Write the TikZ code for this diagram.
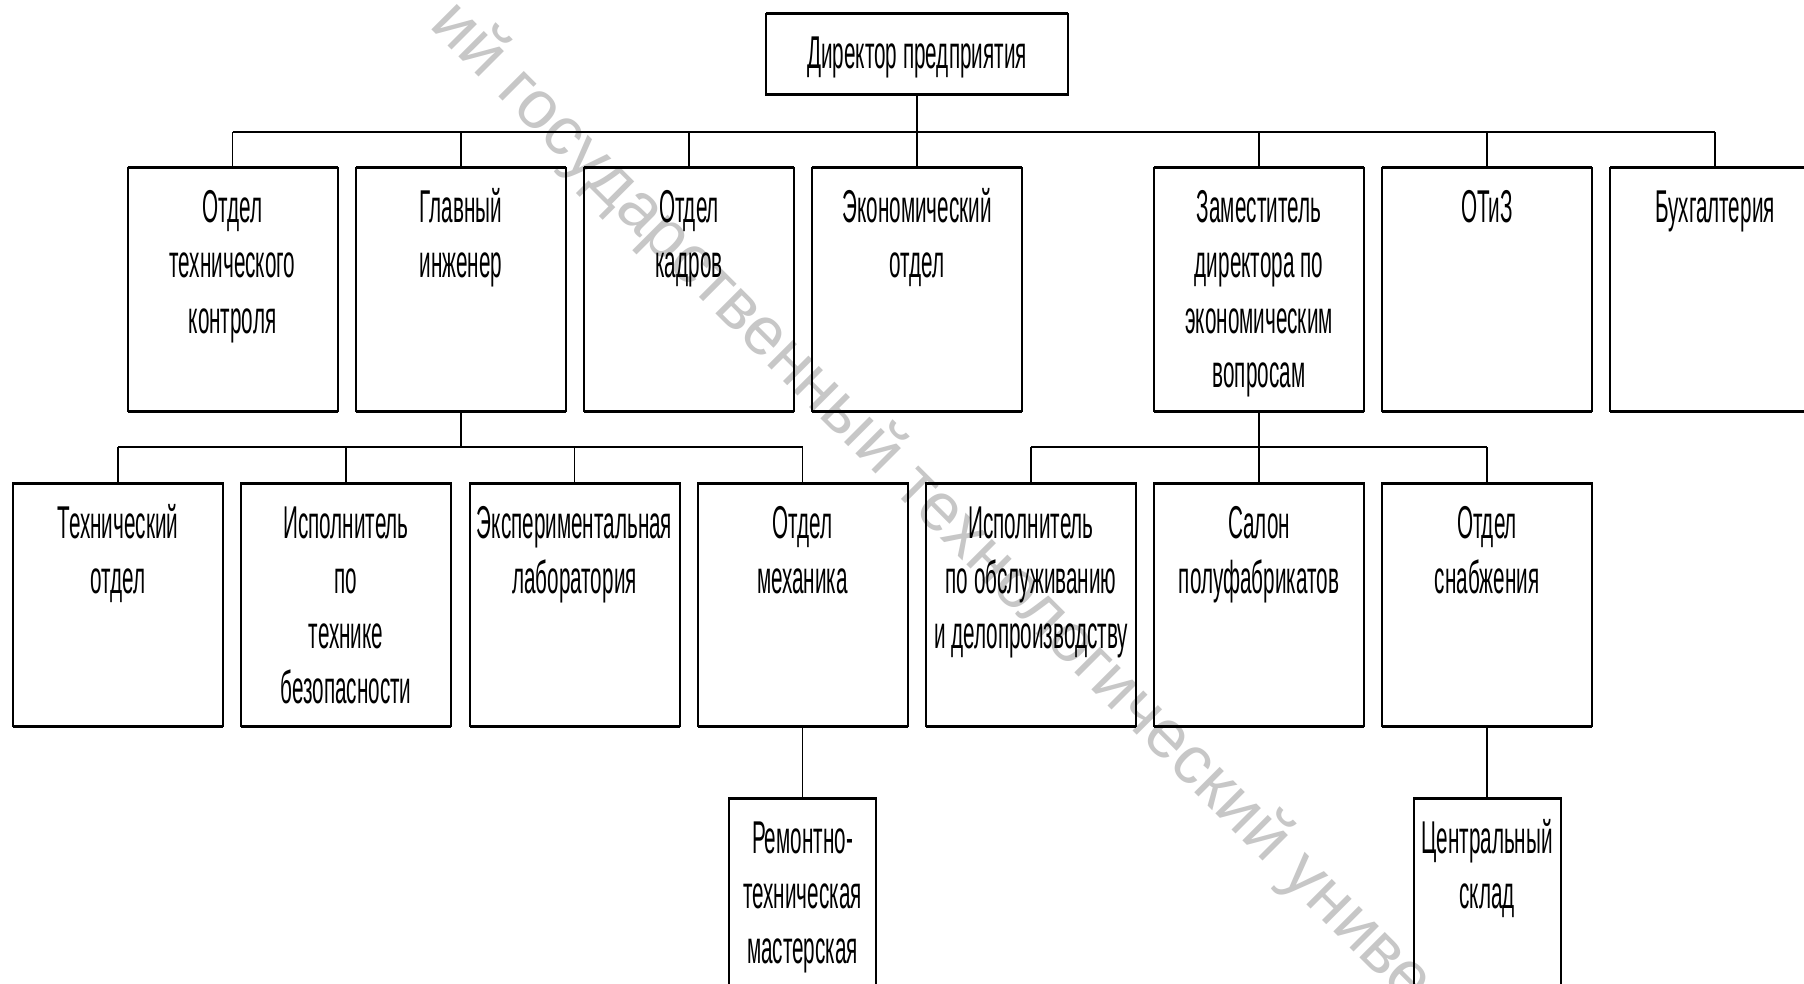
\documentclass[tikz,border=0pt]{standalone}
\usepackage{fontspec}
\setmainfont{Liberation Sans}[FakeStretch=0.45]
\newfontfamily\wmfont{Liberation Sans}
\newcommand\ml[1]{\vtop{\baselineskip=27.5pt\lineskiplimit=-20pt\lineskip=0pt\halign{\hfil##\hfil\cr#1\crcr}}}
\newcommand\orgbox[6]{%
  \node[boxst, minimum width=#4, minimum height=#5] (#1) at (#2,#3) {};
  \draw[hedge] (#1.north west) -- (#1.north east) (#1.south west) -- (#1.south east);
  \node[lbl] (#1-t) at ([yshift=-27.5pt]#1.north) {\ml{#6}};}
\begin{document}
\begin{tikzpicture}[x=0.5pt,y=-0.5pt,
  boxst/.style={rectangle, draw, line width=1pt, inner sep=0pt, outer sep=0pt, anchor=north},
  hedge/.style={line width=1.5pt},
  conn/.style={line width=0.8pt},
  busline/.style={line width=1.4pt},
  lbl/.style={inner sep=0pt, anchor=base, font=\fontsize{23}{27.5}\selectfont},
  wm/.style={inner sep=0pt, anchor=base west, rotate=-45, text=black!22, font=\wmfont\fontsize{34}{40}\selectfont}]
\useasboundingbox (0,0) rectangle (1804,984);
\clip (0,0) rectangle (1804,984);
\fill[white] (0,0) rectangle (1804,984);
\node[wm] (wmark) at (428,26) {ий государственный технологический униве};
% director
\orgbox{dir}{917}{14}{151pt}{40.5pt}{Директор предприятия}
% row 1
\orgbox{otk}{232.5}{168}{105pt}{121.5pt}{Отдел\cr технического\cr контроля}
\orgbox{gi}{461}{168}{105pt}{121.5pt}{Главный\cr инженер}
\orgbox{okadr}{689}{168}{105pt}{121.5pt}{Отдел\cr кадров}
\orgbox{eo}{917}{168}{105pt}{121.5pt}{Экономический\cr отдел}
\orgbox{zam}{1259}{168}{105pt}{121.5pt}{Заместитель\cr директора по\cr экономическим\cr вопросам}
\orgbox{otiz}{1487}{168}{105pt}{121.5pt}{ОТиЗ}
\orgbox{buh}{1715}{168}{105pt}{121.5pt}{Бухгалтерия}
% row 2
\orgbox{tech}{118}{483}{105pt}{121.5pt}{Технический\cr отдел}
\orgbox{itb}{346}{483}{105pt}{121.5pt}{Исполнитель\cr по\cr технике\cr безопасности}
\orgbox{el}{574.5}{483}{105pt}{121.5pt}{Экспериментальная\cr лаборатория}
\orgbox{om}{802.5}{483}{105pt}{121.5pt}{Отдел\cr механика}
\orgbox{iod}{1031}{483}{105pt}{121.5pt}{Исполнитель\cr по обслуживанию\cr и делопроизводству}
\orgbox{sp}{1259}{483}{105pt}{121.5pt}{Салон\cr полуфабрикатов}
\orgbox{os}{1487}{483}{105pt}{121.5pt}{Отдел\cr снабжения}
% row 3
\orgbox{rtm}{802.5}{798}{73.5pt}{121.5pt}{Ремонтно-\cr техническая\cr мастерская}
\orgbox{cs}{1487}{798}{73.5pt}{121.5pt}{Центральный\cr склад}
% buses
\coordinate (b1) at (917,132);
\coordinate (b2) at (461,447);
\coordinate (b3) at (1259,447);
\draw[conn] (dir.south) -- (dir.south |- b1);
\foreach \n in {otk,gi,okadr,eo,zam,otiz,buh} \draw[conn] (\n.north) -- (\n.north |- b1);
\draw[busline] (otk.north |- b1) -- (buh.north |- b1);
\draw[conn] (gi.south) -- (gi.south |- b2);
\foreach \n in {tech,itb,el,om} \draw[conn] (\n.north) -- (\n.north |- b2);
\draw[busline] (tech.north |- b2) -- (om.north |- b2);
\draw[conn] (zam.south) -- (zam.south |- b3);
\foreach \n in {iod,sp,os} \draw[conn] (\n.north) -- (\n.north |- b3);
\draw[busline] (iod.north |- b3) -- (os.north |- b3);
\draw[conn] (om.south) -- (rtm.north);
\draw[conn] (os.south) -- (cs.north);
\end{tikzpicture}
\end{document}
